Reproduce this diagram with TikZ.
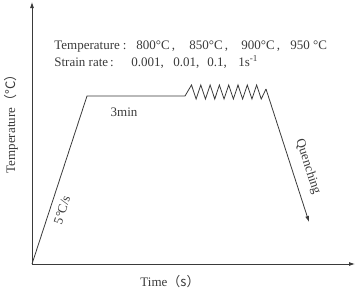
\documentclass[tikz,border=0pt]{standalone}
\usepackage{fontspec}
\setmainfont{Liberation Serif}
\newfontfamily\cjk{Noto Sans CJK SC}
\usetikzlibrary{arrows.meta}
\definecolor{ink}{HTML}{3A3A3A}
\begin{document}
\begin{tikzpicture}[x=1pt,y=-1pt,line width=0.8pt,color=ink,
  font=\fontsize{13}{15}\selectfont,
  lbl/.style={inner sep=0pt,anchor=base west},
  axis/.style={-{Latex[length=6pt,width=4pt]}}]
\useasboundingbox (0,0) rectangle (357,290);
\coordinate (O) at (32,264);
\coordinate (Ytop) at (32,2);
\coordinate (Xend) at (355,264);
\coordinate (A) at (87,96);
\coordinate (B) at (185,96);
\coordinate (C) at (266,89);
\coordinate (Q) at (309,222);
\draw[axis] (O) -- (Ytop);
\draw[axis] (O) -- (Xend);
\draw (O) -- (A) -- (B)
  \foreach \k in {0,...,7} { -- ({191.5+9.3*\k},85) -- ({196.15+9.3*\k},99) } -- (C);
\draw[axis] (C) -- (Q);
% top texts
\node[lbl] (t1) at (54,49) {Temperature\hspace{3pt}:};
\node[lbl] (t2) at (136,49) {800°C\hspace{2pt},};
\node[lbl] (t3) at (189,49) {850°C\hspace{2pt},};
\node[lbl] (t4) at (241,49) {900°C\hspace{2pt},};
\node[lbl] (t5) at (290,49) {950 °C};
\node[lbl] (s1) at (54,66) {Strain rate\hspace{2pt}:};
\node[lbl] (s2) at (131,66) {0.001,};
\node[lbl] (s3) at (173,66) {0.01,};
\node[lbl] (s4) at (207,66) {0.1,};
\node[lbl] (s5) at (238,66) {1s\textsuperscript{-1}};
\node (m) at (124,112) {3min};
\node (xl) at (170,282) {Time\cjk{（}s\cjk{）}};
\node[rotate=90] (yl) at (11,121) {Temperature\cjk{（}°C\cjk{）}};
\node[rotate=72] (r) at (62,210) {5°C/s};
\node[rotate=-72] (q) at (308,167) {Quenching};
\end{tikzpicture}
\end{document}
